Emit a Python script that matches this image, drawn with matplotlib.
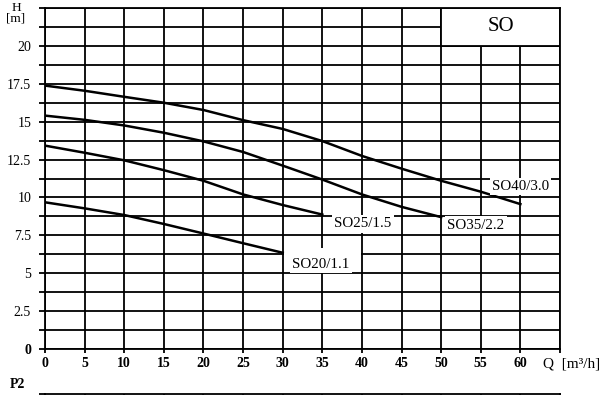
import numpy as np
import matplotlib
matplotlib.use("Agg")
import matplotlib.pyplot as plt
from matplotlib.patches import Rectangle

# ========================================
# Data
# ========================================

q_so20 = [0, 5, 10, 15, 20, 25, 30]
h_so20 = [9.68, 9.28, 8.84, 8.25, 7.62, 6.98, 6.35]

q_so25 = [0, 5, 10, 15, 20, 25, 30, 35]
h_so25 = [13.42, 12.95, 12.45, 11.8, 11.1, 10.2, 9.5, 8.87]

q_so35 = [0, 5, 10, 15, 20, 25, 30, 35, 40, 45, 50]
h_so35 = [15.4, 15.12, 14.75, 14.27, 13.7, 13.0, 12.1, 11.18, 10.2, 9.38, 8.7]

q_so40 = [0, 5, 10, 15, 20, 25, 30, 35, 40, 45, 50, 55, 60]
h_so40 = [17.38, 17.04, 16.64, 16.25, 15.77, 15.1, 14.52, 13.72, 12.74, 11.9, 11.1, 10.38, 9.56]

curve_names = ["SO20/1.1", "SO25/1.5", "SO35/2.2", "SO40/3.0"]
label_pos = [(31.2, 5.6), (36.5, 8.25), (50.8, 8.18), (56.4, 10.72)]

x_ticks = list(range(0, 66, 5))
x_ticklabels = [str(v) for v in range(0, 61, 5)] + [""]
y_ticks = [0, 2.5, 5, 7.5, 10, 12.5, 15, 17.5, 20, 22.5]
y_ticklabels = ["0", "2.5", "5", "7.5", "10", "12.5", "15", "17.5", "20", ""]

# ========================================
# Setup
# ========================================

plt.rcParams["font.family"] = ["Liberation Serif", "DejaVu Serif"]
W, H = 605, 395
fig = plt.figure(figsize=(W / 100, H / 100), dpi=100)

left, right, top, bottom = 45, 560, 8, 349
ax = fig.add_axes([left / W, 1 - bottom / H, (right - left) / W, (bottom - top) / H])
ax.set_xlim(0, 65)
ax.set_ylim(0, 22.5)
ax.set_axisbelow(True)

grid_lw = 1.3
for s in ax.spines.values():
    s.set_linewidth(grid_lw)

ax.set_xticks(x_ticks)
ax.set_xticklabels(x_ticklabels, fontsize=10, fontweight="bold")
ax.set_yticks(y_ticks)
ax.set_yticklabels(y_ticklabels, fontsize=10)
ax.get_yticklabels()[0].set_fontweight("bold")
ax.set_yticks(np.arange(1.25, 22.5, 2.5), minor=True)
ax.tick_params(axis="x", which="major", length=3, width=grid_lw, pad=3)
ax.tick_params(axis="y", which="both", length=4, width=grid_lw, pad=6)
ax.grid(True, which="both", color="black", linewidth=grid_lw)

# curves
for q, h in [(q_so20, h_so20), (q_so25, h_so25), (q_so35, h_so35), (q_so40, h_so40)]:
    ax.plot(q, h, color="black", linewidth=1.8, zorder=3)

# white patch behind the SO20 label (grid is blanked out there)
ax.add_patch(Rectangle((30.15, 5.2), 9.7, 1.45, facecolor="white", edgecolor="none", zorder=1))

for name, (lx, ly) in zip(curve_names, label_pos):
    ax.text(lx, ly, name, fontsize=10.8, ha="left", va="center", zorder=4,
            bbox=dict(facecolor="white", edgecolor="none", pad=1.5))

# SO title box
ax.add_patch(Rectangle((50, 20), 15, 2.5, facecolor="white", edgecolor="black",
                       linewidth=grid_lw, zorder=2))
ax.text(57.5, 21.25, "SO", fontsize=15, ha="center", va="center", zorder=4)

# axis labels
fig.text(16 / W, 1 - 8 / H, "H", fontsize=9.5, ha="center", va="center")
fig.text(16 / W, 1 - 18.5 / H, "[m]", fontsize=9.5, ha="center", va="center")
fig.text(543 / W, 1 - 364 / H, "Q  [m³/h]", fontsize=11, ha="left", va="center")

# ========================================
# P2 panel (only its top edge is visible)
# ========================================

ax2 = fig.add_axes([left / W, -0.3, (right - left) / W, 0.3 + 1.5 / H])
ax2.set_xlim(0, 65)
ax2.set_ylim(0, 1)
ax2.set_xticks(x_ticks)
ax2.set_yticks([1])
ax2.set_xticklabels([])
ax2.set_yticklabels([])
ax2.tick_params(axis="y", length=4, width=grid_lw)
ax2.tick_params(axis="x", length=0)
ax2.grid(True, axis="x", color="black", linewidth=grid_lw)
for s in ax2.spines.values():
    s.set_linewidth(grid_lw)
fig.text(17 / W, 1 - 385 / H, "P2", fontsize=10, fontweight="bold", ha="center", va="center")

fig.savefig("out.png", dpi=100)
